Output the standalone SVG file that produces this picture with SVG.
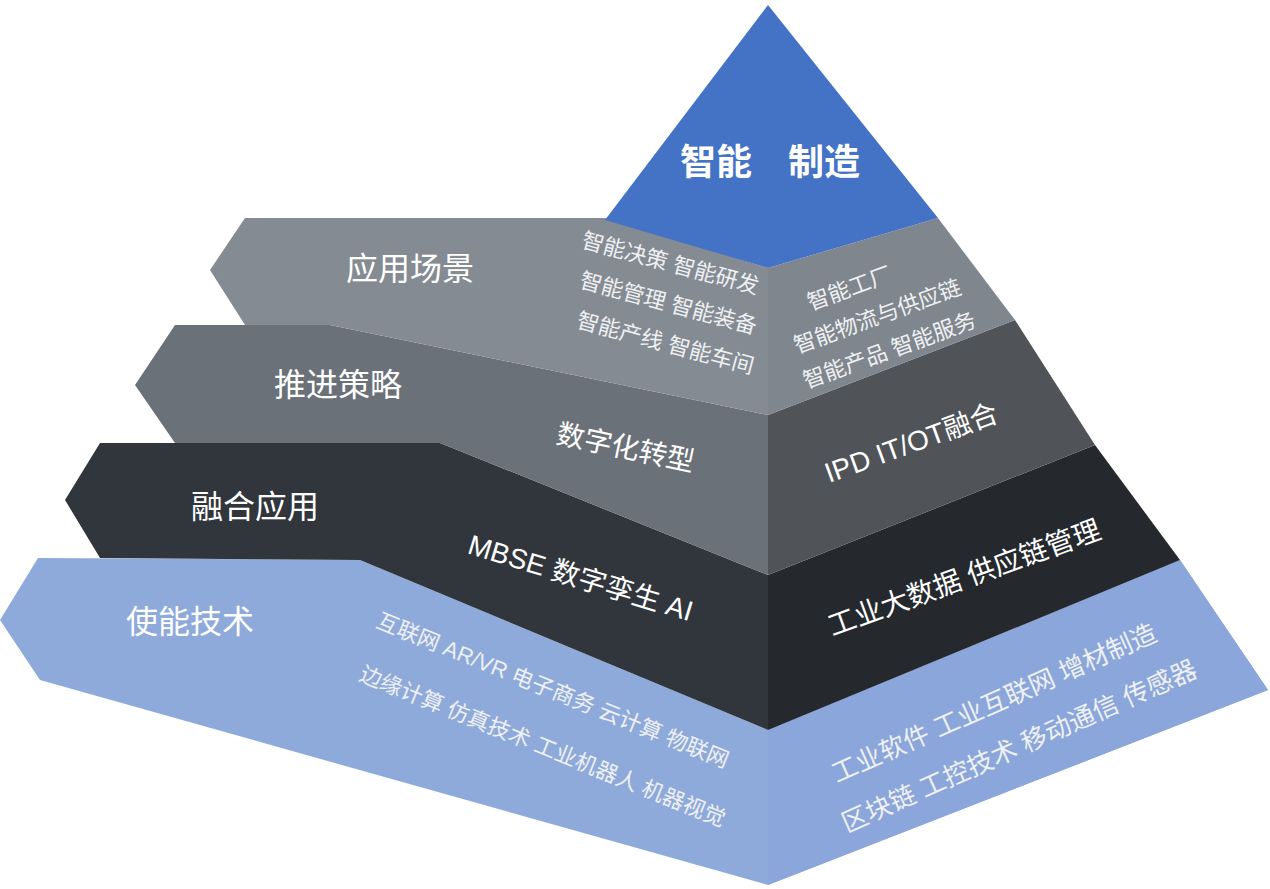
<svg xmlns="http://www.w3.org/2000/svg" width="1270" height="889" viewBox="0 0 1270 889">
<style>
text{font-family:"Liberation Sans","Noto Sans CJK SC",sans-serif;fill:#fff;text-anchor:middle;dominant-baseline:middle}
.t{font-size:32px}.s{font-size:22px;fill:#eef0f2}.m{font-size:28px}
</style>
<rect width="1270" height="889" fill="#fff"/>
<g id="layer4">
<polygon points="38,558 360,560 768,730 1180,560 1268,690 768,885 40,680 0,620" fill="#8EAADB"/>
<polygon points="768,730 1180,560 1268,690 768,885" fill="#8AA6DA"/>
<text class="t" x="190" y="625">使能技术</text>
<text class="s" transform="translate(552,692) rotate(22)">互联网 AR/VR 电子商务 云计算 物联网</text>
<text class="s" transform="translate(542,748) rotate(22)">边缘计算 仿真技术 工业机器人 机器视觉</text>
<text class="s" style="font-size:26px" transform="translate(995,705) rotate(-24)">工业软件  工业互联网  增材制造</text>
<text class="s" style="font-size:26px" transform="translate(1020,748) rotate(-24)">区块链 工控技术 移动通信 传感器</text>
</g>
<g id="layer3">
<polygon points="100,443 440,443 768,575 768,730 360,560 100,558 65,500" fill="#31363D"/>
<polygon points="768,575 1095,445 1180,560 768,730" fill="#25292E"/>
<text class="t" x="255" y="510">融合应用</text>
<text class="m" transform="translate(580,580) rotate(17)">MBSE 数字孪生 AI</text>
<text class="m" transform="translate(965,580) rotate(-20)">工业大数据  供应链管理</text>
</g>
<g id="layer2">
<polygon points="175,325 330,325 768,415 768,575 440,443 175,443 135,385" fill="#6B7178"/>
<polygon points="768,415 1015,320 1095,445 768,575" fill="#505459"/>
<text class="t" x="338" y="388">推进策略</text>
<text class="m" transform="translate(625,450) rotate(12)">数字化转型</text>
<text class="m" transform="translate(912,445) rotate(-20)">IPD  IT/OT融合</text>
</g>
<g id="layer1">
<polygon points="245,218 605,218 768,268 768,415 330,325 245,325 210,270" fill="#858B92"/>
<polygon points="768,268 938,218 1015,320 768,415" fill="#80868D"/>
<text class="t" x="410" y="272">应用场景</text>
<text class="s" transform="translate(670,265) rotate(15)">智能决策 智能研发</text>
<text class="s" transform="translate(668,305) rotate(15)">智能管理 智能装备</text>
<text class="s" transform="translate(665,345) rotate(15)">智能产线 智能车间</text>
<text class="s" transform="translate(850,290) rotate(-20)">智能工厂</text>
<text class="s" transform="translate(878,318) rotate(-20)">智能物流与供应链</text>
<text class="s" transform="translate(890,352) rotate(-20)">智能产品  智能服务</text>
</g>
<g id="top">
<polygon points="768,5 938,218 768,268 605,220" fill="#4472C4"/>
<text x="770" y="165" style="font-size:36px;font-weight:bold">智能　制造</text>
</g>
</svg>
